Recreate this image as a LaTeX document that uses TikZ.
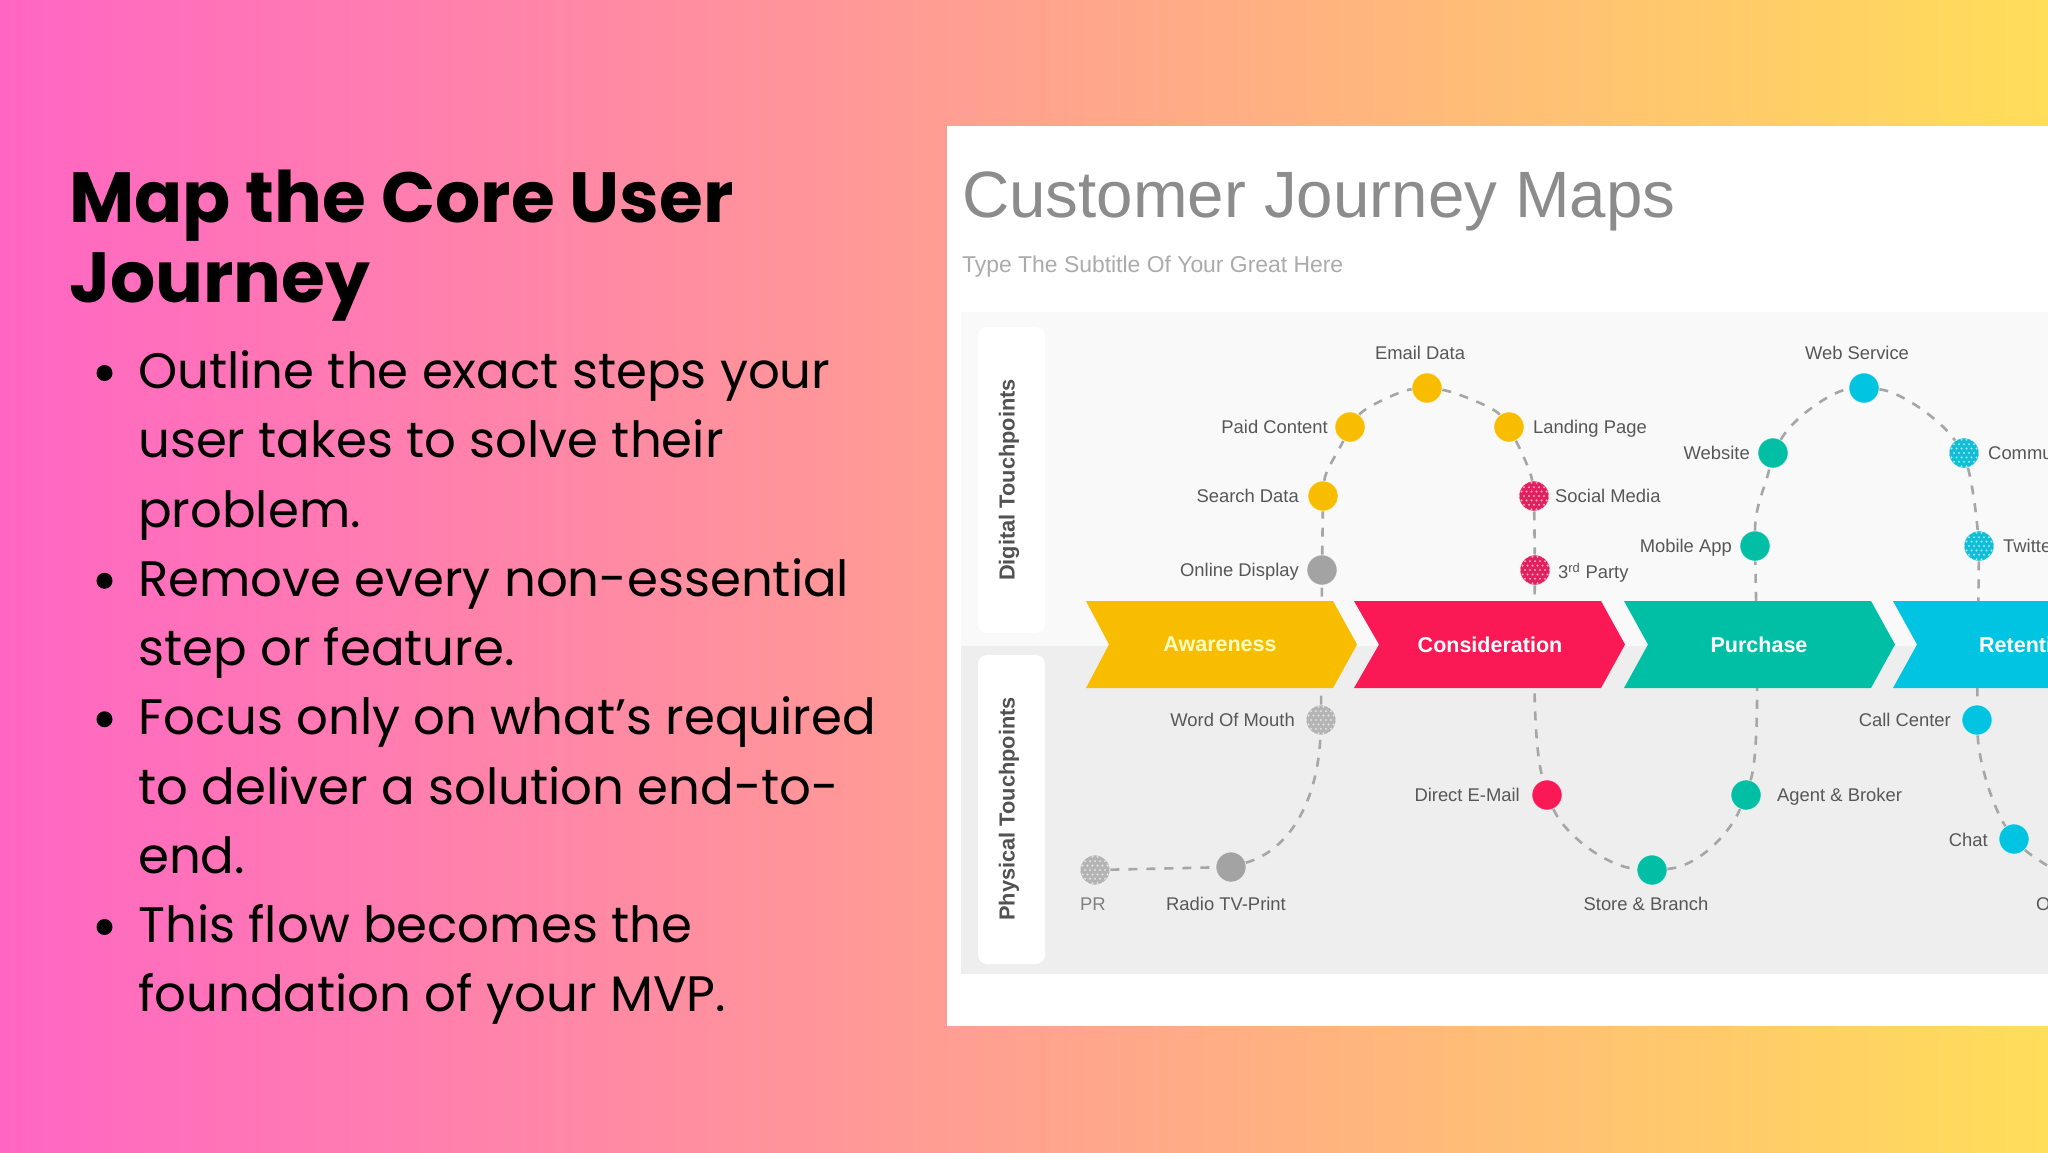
\documentclass[tikz,border=0pt]{standalone}
\usepackage{fontspec}
\setmainfont{Poppins}
\newfontfamily\lib{Liberation Sans}
\usetikzlibrary{calc}
\definecolor{gpink}{HTML}{FF66C4}
\definecolor{gyellow}{HTML}{FFDE59}
\definecolor{cyel}{HTML}{F9BD00}
\definecolor{cred}{HTML}{FA1855}
\definecolor{cteal}{HTML}{00BFA5}
\definecolor{cblue}{HTML}{00C4E2}
\definecolor{cgray}{HTML}{A3A3A3}
\definecolor{cdot}{HTML}{B4B4B4}
\definecolor{cmag}{HTML}{E0205F}
\definecolor{ccya}{HTML}{12BDD6}
\tikzset{
  spot/.style={circle,minimum size=30pt,inner sep=0pt,fill=#1,draw=white,draw opacity=.6,line width=.8pt},
  dotspot/.style={spot=#1,path picture={
    \foreach \j in {-4,...,4}{
      \pgfmathsetmacro\hexoff{mod(abs(\j),2)*2.5}
      \foreach \i in {-4,...,4}{
        \fill[white,opacity=.6] ([shift={(\i*5+\hexoff,\j*4.4)}]path picture bounding box.center) circle (1.15);
      }
    }}},
  lab/.style={inner sep=0pt,text height=13pt,text depth=0pt,text=black!66,font=\lib\fontsize{18.4}{20}\selectfont},
  link/.style={draw=black!35,line width=2.6pt,dash pattern=on 9pt off 9pt},
  chev/.style={inner sep=0pt,font=\lib\bfseries\fontsize{21.5}{24}\selectfont},
  sidetext/.style={inner sep=0pt,rotate=90,text=black!68,font=\lib\bfseries\fontsize{21.8}{24}\selectfont},
  sidebox/.style={fill=white,rounded corners=9pt},
  headline/.style={anchor=base west,inner sep=0pt,text=black,font=\bfseries\fontsize{71}{75}\selectfont},
  bodyline/.style={anchor=base west,inner sep=0pt,text=black,font=\fontsize{49.8}{60}\selectfont},
  bulletdot/.style={circle,fill=black,minimum size=16pt,inner sep=0pt},
}
\begin{document}
\begin{tikzpicture}[x=1pt,y=-1pt]
\useasboundingbox (0,0) rectangle (2048,1152);
\shade[left color=gpink,right color=gyellow] (0,0) rectangle (2048,1152);

% left text
\node[headline] (h1) at (69,222) {Map the Core User};
\node[headline] (h2) at (69,302) {Journey};
\foreach \n/\k/\t in {a/0/Outline the exact steps your,b/1/user takes to solve their,c/2/problem.,d/3/Remove every non-essential,e/4/step or feature.,f/5/Focus only on what’s required,g/6/to deliver a solution end-to-,i/7/end.,j/8/This flow becomes the,k/9/foundation of your MVP.}{
  \node[bodyline] (line\n) at (138,388.5+\k*69.25) {\t};
}
\foreach \n/\k in {a/0,d/3,f/5,j/8}{
  \node[bulletdot] (bul\n) at (104.5,373+\k*69.25) {};
}

% white panel
\fill[white] (947,126) rectangle (2048,1026);
\fill[black!2.5] (961,312) rectangle (2048,646);
\fill[black!6.5] (961,646) rectangle (2048,974);
\node[anchor=base west,inner sep=0pt,text=black!45,font=\lib\fontsize{65.5}{70}\selectfont] (title) at (962,217) {Customer Journey Maps};
\node[anchor=base west,inner sep=0pt,text=black!33,font=\lib\fontsize{22.9}{26}\selectfont] (subtitle) at (962,272) {Type The Subtitle Of Your Great Here};
\fill[sidebox] (978,327) rectangle (1045,633);
\fill[sidebox] (978,655) rectangle (1045,964);
\node[sidetext] (dig) at (1009,480) {Digital Touchpoints};
\node[sidetext] (phy) at (1009,809) {Physical Touchpoints};

% touchpoints
\node[dotspot=cdot] (pr) at (1095,870) {};
\node[spot=cgray] (radio) at (1231,867) {};
\node[dotspot=cdot] (word) at (1321,720) {};
\node[spot=cgray] (online) at (1322,570) {};
\node[spot=cyel] (search) at (1323,496) {};
\node[spot=cyel] (paid) at (1350,427) {};
\node[spot=cyel] (email) at (1427,388) {};
\node[spot=cyel] (landing) at (1509,427) {};
\node[dotspot=cmag] (social) at (1534,496) {};
\node[dotspot=cmag] (party) at (1535,570) {};
\node[spot=cred] (direct) at (1547,795) {};
\node[spot=cteal] (store) at (1652,870) {};
\node[spot=cteal] (agent) at (1746,795) {};
\node[spot=cteal] (mobile) at (1755,546) {};
\node[spot=cteal] (website) at (1773,453) {};
\node[spot=cblue] (web) at (1864,388) {};
\node[dotspot=ccya] (community) at (1964,453) {};
\node[dotspot=ccya] (twitter) at (1979,546) {};
\node[spot=cblue] (call) at (1977,720) {};
\node[spot=cblue] (chat) at (2014,839) {};
\coordinate (off) at (2075,880);

% connectors
\draw[link] (pr) -- (radio);
\draw[link] (radio) .. controls +(59,-17) and +(-3,80) .. (word);
\draw[link] (word) -- (online);
\draw[link] (online) -- (search);
\draw[link] (search) .. controls +(2,-25) and +(-12,25) .. (paid);
\draw[link] (paid) .. controls +(15,-20) and +(-25,2) .. (email);
\draw[link] (email) .. controls +(25,3) and +(-15,-20) .. (landing);
\draw[link] (landing) .. controls +(10,20) and +(-3,-25) .. (social);
\draw[link] (social) -- (party);
\draw[link] (party) .. controls +(-2,130) and +(-12,-45) .. (direct);
\draw[link] (direct) .. controls +(18,40) and +(-45,-3) .. (store);
\draw[link] (store) .. controls +(45,-3) and +(-17,40) .. (agent);
\draw[link] (agent) .. controls +(14,-45) and +(2,104) .. (mobile);
\draw[link] (mobile) .. controls +(0,-40) and +(-8,35) .. (website);
\draw[link] (website) .. controls +(22,-38) and +(-29,2) .. (web);
\draw[link] (web) .. controls +(35,3) and +(-25,-35) .. (community);
\draw[link] (community) .. controls +(8,30) and +(-3,-35) .. (twitter);
\draw[link] (twitter) -- (call);
\draw[link] (call) .. controls +(2,45) and +(-20,-30) .. (chat);
\draw[link] (chat) .. controls +(15,15) and +(-20,-8) .. (off);

% stages
\fill[cyel] (1086,601) -- (1333,601) -- (1357,644.5) -- (1333,688) -- (1086,688) -- (1109,644.5) -- cycle;
\fill[cred] (1354,601) -- (1601,601) -- (1625,644.5) -- (1601,688) -- (1354,688) -- (1379,644.5) -- cycle;
\fill[cteal] (1624,601) -- (1871,601) -- (1895,644.5) -- (1871,688) -- (1624,688) -- (1648,644.5) -- cycle;
\fill[cblue] (1893,601) -- (2060,601) -- (2060,688) -- (1893,688) -- (1917,644.5) -- cycle;
\node[chev,text=yellow!25!white] (awareness) at (1220,644.5) {Awareness};
\node[chev,text=white] (consideration) at (1490,644.5) {Consideration};
\node[chev,text=white] (purchase) at (1759,644.5) {Purchase};
\node[chev,text=white,anchor=west] (retention) at (1979,644.5) {Retention};

% labels
\node[lab] (lemail) at (1420,353) {Email Data};
\node[lab,anchor=east] (lpaid) at (1328,427) {Paid Content};
\node[lab,anchor=east] (lsearch) at (1299,496) {Search Data};
\node[lab,anchor=east] (lonline) at (1299,570) {Online Display};
\node[lab,anchor=west] (llanding) at (1533,427) {Landing Page};
\node[lab,anchor=west] (lsocial) at (1555,496) {Social Media};
\node[lab,anchor=west] (lparty) at (1558,572) {3\textsuperscript{rd} Party};
\node[lab] (lweb) at (1857,353) {Web Service};
\node[lab,anchor=east] (lwebsite) at (1750,453) {Website};
\node[lab,anchor=east] (lmobile) at (1732,546) {Mobile App};
\node[lab,anchor=west] (lcommunity) at (1988,453) {Community};
\node[lab,anchor=west] (ltwitter) at (2003,546) {Twitter};
\node[lab,anchor=east] (lword) at (1295,720) {Word Of Mouth};
\node[lab,anchor=west,text=black!50] (lpr) at (1080,904) {PR};
\node[lab] (lradio) at (1226,904) {Radio TV-Print};
\node[lab,anchor=east] (ldirect) at (1520,795) {Direct E-Mail};
\node[lab] (lstore) at (1646,904) {Store \& Branch};
\node[lab,anchor=west] (lagent) at (1777,795) {Agent \& Broker};
\node[lab,anchor=east] (lcall) at (1951,720) {Call Center};
\node[lab,anchor=east] (lchat) at (1988,840) {Chat};
\node[lab,anchor=west] (loff) at (2036,904) {Offline};
\end{tikzpicture}
\end{document}
